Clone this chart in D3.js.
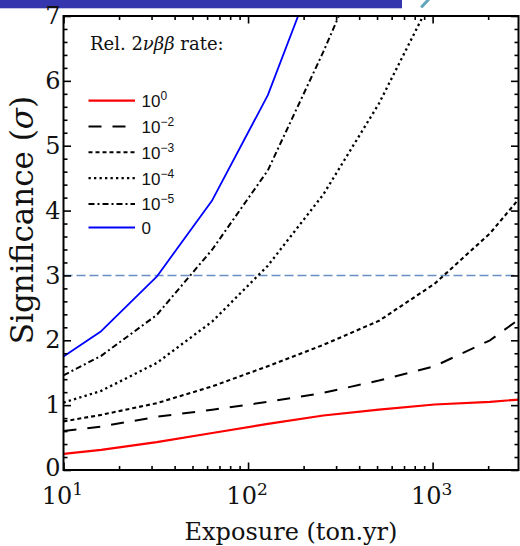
<!DOCTYPE html>
<html>
<head>
<meta charset="utf-8">
<script src="https://cdn.jsdelivr.net/npm/d3@7"></script>
<style>
  html, body { margin: 0; padding: 0; background: #fff; }
  svg { display: block; }
</style>
</head>
<body>
<svg id="chart" width="520" height="546"></svg>
<script>
// Exposure grid (ton.yr) at which the significance was evaluated
const exposure = [10, 16, 32, 64, 128, 256, 512, 1024, 2048, 4096];

// Discovery significance (sigma) for each relative 2νββ rate
const sigRate1e0 = [0.25, 0.31, 0.43, 0.57, 0.71, 0.84, 0.93, 1.01, 1.05, 1.12];
const sigRate1e2 = [0.60, 0.67, 0.82, 0.93, 1.05, 1.19, 1.38, 1.60, 2.00, 2.62];
const sigRate1e3 = [0.75, 0.85, 1.03, 1.29, 1.60, 1.93, 2.30, 2.87, 3.65, 4.67];
const sigRate1e4 = [1.04, 1.22, 1.65, 2.29, 3.15, 4.25, 5.65, 7.35];
const sigRate1e5 = [1.46, 1.76, 2.39, 3.40, 4.62, 6.45, 8.43];
const sigRate0   = [1.75, 2.14, 2.98, 4.16, 5.78, 8.02];

// Legend labels: mantissa + exponent ("" for a plain label)
const seriesBase = ["10", "10", "10", "10", "10", "0"];
const seriesExp  = ["0", "\u22122", "\u22123", "\u22124", "\u22125", ""];

const xTickExp = ["1", "2", "3"];
const xTickVals = [10, 100, 1000];
const yTickVals = [0, 1, 2, 3, 4, 5, 6, 7];
const thresholdSigma = 3;

const series = [
  { values: sigRate1e0, color: "#ff0000", width: 2.2, dash: null },
  { values: sigRate1e2, color: "#000000", width: 2.0, dash: "13,11" },
  { values: sigRate1e3, color: "#000000", width: 2.1, dash: "4,3" },
  { values: sigRate1e4, color: "#000000", width: 2.3, dash: "2.3,3.2" },
  { values: sigRate1e5, color: "#000000", width: 2.0, dash: "6,3,2,3" },
  { values: sigRate0,   color: "#0000ff", width: 1.8, dash: null }
];

const svg = d3.select("#chart");
const L = 63.5, R = 518.5, T = 16, B = 470;

const x = d3.scaleLog().domain([10, 2920]).range([L, R]);
const y = d3.scaleLinear().domain([0, 7]).range([B, T]);

// Slide header strip above the figure
svg.append("rect").attr("x", 0).attr("y", 0).attr("width", 402).attr("height", 8.3)
  .attr("fill", "#3535ad");
svg.append("line").attr("x1", 422).attr("y1", 6.5).attr("x2", 428.5).attr("y2", -0.5)
  .attr("stroke", "#62a6be").attr("stroke-width", 3).attr("stroke-linecap", "round");

// Clip region for the curves
svg.append("defs").append("clipPath").attr("id", "plot-clip")
  .append("rect").attr("x", L).attr("y", T).attr("width", R - L).attr("height", B - T);

const plot = svg.append("g").attr("clip-path", "url(#plot-clip)");

// 3 sigma reference line
plot.append("line")
  .attr("x1", L).attr("x2", R)
  .attr("y1", y(thresholdSigma)).attr("y2", y(thresholdSigma))
  .attr("stroke", "#6a8fc4").attr("stroke-width", 1.6).attr("stroke-dasharray", "9,4");

const line = d3.line()
  .x((d, i) => x(exposure[i]))
  .y(d => y(d));

series.forEach(s => {
  plot.append("path")
    .datum(s.values)
    .attr("d", line)
    .attr("fill", "none")
    .attr("stroke", s.color)
    .attr("stroke-width", s.width)
    .attr("stroke-dasharray", s.dash)
    .attr("stroke-linejoin", "round");
});

// Tick values for the log axis (majors and minors)
const minorX = [];
[10, 100, 1000].forEach(dec => {
  for (let k = 2; k <= 9; k++) { const v = dec * k; if (v <= 2920) minorX.push(v); }
});
const minorY = d3.range(0, 7.0001, 0.2).map(v => +v.toFixed(1)).filter(v => Math.abs(v - Math.round(v)) > 1e-6);

function styleAxis(g) {
  g.select(".domain").remove();
  g.selectAll(".tick line").attr("stroke", "#000").attr("stroke-width", 1.6);
}

// Major and minor ticks on all four sides (pointing inward)
const axes = [
  { gen: d3.axisBottom, tr: `translate(0,${B})`, scale: x, major: xTickVals, minor: minorX },
  { gen: d3.axisTop, tr: `translate(0,${T})`, scale: x, major: xTickVals, minor: minorX },
  { gen: d3.axisLeft, tr: `translate(${L},0)`, scale: y, major: yTickVals, minor: minorY },
  { gen: d3.axisRight, tr: `translate(${R},0)`, scale: y, major: yTickVals, minor: minorY }
];
axes.forEach(a => {
  svg.append("g").attr("transform", a.tr)
    .call(a.gen(a.scale).tickValues(a.minor).tickSizeInner(-4).tickSizeOuter(0).tickFormat(""))
    .call(styleAxis);
  svg.append("g").attr("transform", a.tr)
    .call(a.gen(a.scale).tickValues(a.major).tickSizeInner(-7.5).tickSizeOuter(0).tickFormat(""))
    .call(styleAxis);
});

// Frame
svg.append("rect").attr("x", L).attr("y", T).attr("width", R - L).attr("height", B - T)
  .attr("fill", "none").attr("stroke", "#000").attr("stroke-width", 2);

const serif = "'DejaVu Serif', serif";
const sans = "'Liberation Sans', Arial, sans-serif";

// Y tick labels (the zero label sits a little higher to clear the x labels)
svg.append("g").selectAll("text").data(yTickVals).join("text")
  .attr("x", L - 3).attr("y", d => y(d) - (d === 0 ? 2.5 : 0))
  .attr("dy", "0.34em")
  .attr("text-anchor", "end")
  .attr("font-family", serif).attr("font-size", 24)
  .attr("fill", "#111")
  .text(d => d);

// X tick labels as powers of ten
const xl = svg.append("g").selectAll("text").data(xTickVals).join("text")
  .attr("x", d => x(d) - 1).attr("y", 504)
  .attr("text-anchor", "middle")
  .attr("font-family", serif).attr("font-size", 24)
  .attr("fill", "#111");
xl.append("tspan").text("10");
xl.append("tspan").attr("dy", -9).attr("font-size", 17).text((d, i) => xTickExp[i]);

// Axis titles
svg.append("text")
  .attr("x", 291).attr("y", 540)
  .attr("text-anchor", "middle")
  .attr("font-family", serif).attr("font-size", 24).attr("fill", "#111")
  .text("Exposure (ton.yr)");

const yt = svg.append("text")
  .attr("transform", "translate(33,220) rotate(-90)")
  .attr("text-anchor", "middle")
  .attr("font-family", serif).attr("font-size", 31).attr("fill", "#111");
yt.append("tspan").text("Significance (");
yt.append("tspan").attr("font-style", "italic").text("\u03c3");
yt.append("tspan").text(")");

// Legend
const lt = svg.append("text")
  .attr("x", 90).attr("y", 50)
  .attr("font-family", serif).attr("font-size", 18).attr("fill", "#111");
lt.append("tspan").text("Rel. 2");
lt.append("tspan").attr("font-style", "italic").text("\u03bd\u03b2\u03b2");
lt.append("tspan").text(" rate:");

const rowY = [100.7, 126.5, 152.3, 178.1, 203.9, 227.5];
const leg = svg.append("g");
series.forEach((s, i) => {
  leg.append("line")
    .attr("x1", 88.5).attr("x2", 135).attr("y1", rowY[i]).attr("y2", rowY[i])
    .attr("stroke", s.color).attr("stroke-width", s.width)
    .attr("stroke-dasharray", s.dash);
  const t = leg.append("text")
    .attr("x", 141.5).attr("y", rowY[i] + 6.5)
    .attr("font-family", sans).attr("font-size", 17).attr("fill", "#111");
  t.append("tspan").text(seriesBase[i]);
  if (seriesExp[i]) t.append("tspan").attr("dy", -7).attr("font-size", 12).text(seriesExp[i]);
});
</script>
</body>
</html>
